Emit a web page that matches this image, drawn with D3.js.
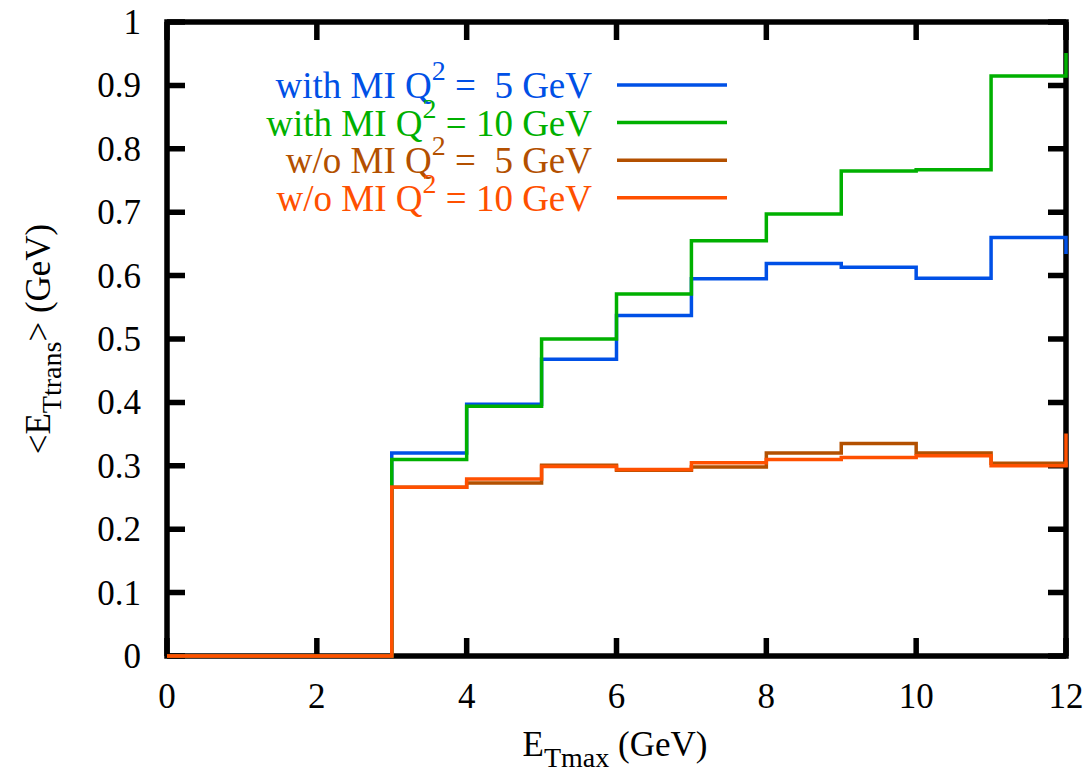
<!DOCTYPE html>
<html>
<head>
<meta charset="utf-8">
<script src="https://cdn.jsdelivr.net/npm/d3@7"></script>
<style>
  body { margin: 0; background: #fff; }
</style>
</head>
<body>
<div id="plot"></div>
<script>
// bin edges, value at x[i] holds from x[i] to x[i+1] (gnuplot "steps")
const xEdges = [0,1,2,3,4,5,6,7,8,9,10,11,12]
const withMI5  = [0,0,0,0.320,0.397,0.468,0.537,0.595,0.619,0.613,0.596,0.660,0.634]
const withMI10 = [0,0,0,0.310,0.394,0.500,0.571,0.655,0.697,0.765,0.767,0.915,0.951]
const woMI5    = [0,0,0,0.266,0.273,0.301,0.293,0.298,0.320,0.335,0.320,0.304,0.298]
const woMI10   = [0,0,0,0.266,0.279,0.299,0.294,0.305,0.310,0.313,0.316,0.300,0.351]

const seriesNames = ['with MI Q2 =  5 GeV','with MI Q2 = 10 GeV','w/o MI Q2 =  5 GeV','w/o MI Q2 = 10 GeV']
const colors = ['#0050e6','#00b000','#b35000','#ff5000']
const xTicks = [0,2,4,6,8,10,12]
const yTicks = [0,0.1,0.2,0.3,0.4,0.5,0.6,0.7,0.8,0.9,1]

const series = [withMI5, withMI10, woMI5, woMI10].map((vals,i)=>({
  name: seriesNames[i],
  color: colors[i],
  values: vals.map((v,j)=>({x: xEdges[j], y: v}))
}))

const FONT = "'Liberation Serif', 'Times New Roman', Times, 'DejaVu Serif', serif"

var margin = {top: 22, right: 25, bottom: 120, left: 167},
    width = 1066 - margin.left,
    height = 656 - margin.top;

var svg = d3.select('#plot')
  .append('svg')
    .attr('width', 1091)
    .attr('height', 776)
    .attr('font-family', FONT)
  .append('g')
    .attr('transform', 'translate(' + margin.left + ',' + margin.top + ')');

const x = d3.scaleLinear().domain([0,12]).range([0,width])
const y = d3.scaleLinear().domain([0,1]).range([height,0])

// border box
svg.append('rect')
  .attr('x',0).attr('y',0)
  .attr('width',width).attr('height',height)
  .attr('fill','none')
  .attr('stroke','#000')
  .attr('stroke-width',5.5)

const tickLen = 18
// x ticks (bottom + mirrored top)
svg.selectAll('.xt')
  .data(xTicks)
  .enter()
  .append('path')
    .attr('d', d => `M${x(d)},${height}v${-tickLen}M${x(d)},0v${tickLen}`)
    .attr('stroke','#000')
    .attr('stroke-width',5.5)

svg.selectAll('.xl')
  .data(xTicks)
  .enter()
  .append('text')
    .attr('x', d => x(d))
    .attr('y', height + 52)
    .attr('text-anchor','middle')
    .style('font-family', FONT)
    .style('font-size','35px')
    .text(d => d)

// y ticks (left + mirrored right)
svg.selectAll('.yt')
  .data(yTicks)
  .enter()
  .append('path')
    .attr('d', d => `M0,${y(d)}h${tickLen}M${width},${y(d)}h${-tickLen}`)
    .attr('stroke','#000')
    .attr('stroke-width',5.5)

svg.selectAll('.yl')
  .data(yTicks)
  .enter()
  .append('text')
    .attr('x', -26)
    .attr('y', d => y(d) + 12)
    .attr('text-anchor','end')
    .style('font-family', FONT)
    .style('font-size','35px')
    .text(d => d3.format('~g')(d))

// axis titles
const xt = svg.append('text')
  .attr('x', 448)
  .attr('y', height + 100)
  .attr('text-anchor','middle')
  .style('font-family', FONT)
  .style('font-size','35px')
xt.append('tspan').text('E')
xt.append('tspan').attr('dy',11).style('font-size','28px').text('Tmax')
xt.append('tspan').attr('dy',-11).text(' (GeV)')

const yt = svg.append('text')
  .attr('transform', `translate(-117,${height/2}) rotate(-90)`)
  .attr('text-anchor','middle')
  .style('font-family', FONT)
  .style('font-size','35px')
yt.append('tspan').text('<E')
yt.append('tspan').attr('dy',11).style('font-size','28px').text('Ttrans')
yt.append('tspan').attr('dy',-11).text('> (GeV)')

// step lines
const line = d3.line()
  .x(d => x(d.x))
  .y(d => y(d.y))
  .curve(d3.curveStepAfter)

svg.selectAll('.line')
  .data(series)
  .enter()
  .append('path')
    .attr('fill','none')
    .attr('stroke', d => d.color)
    .attr('stroke-width',3.5)
    .attr('d', d => line(d.values))

// legend
const legY = i => 63 + i*37.6
series.forEach((s,i)=>{
  const parts = s.name.split('Q2')
  const t = svg.append('text')
    .attr('x', 425)
    .attr('y', legY(i) + 13)
    .attr('text-anchor','end')
    .style('font-family', FONT)
    .style('font-size','37px')
    .style('white-space','pre')
    .attr('fill', s.color)
  t.append('tspan').text(parts[0] + 'Q')
  t.append('tspan').attr('dy',-18).style('font-size','28px').text('2')
  t.append('tspan').attr('dy',18).text(parts[1])
  svg.append('line')
    .attr('x1',450).attr('x2',560)
    .attr('y1',legY(i)).attr('y2',legY(i))
    .attr('stroke',s.color)
    .attr('stroke-width',3.5)
})
</script>
</body>
</html>
